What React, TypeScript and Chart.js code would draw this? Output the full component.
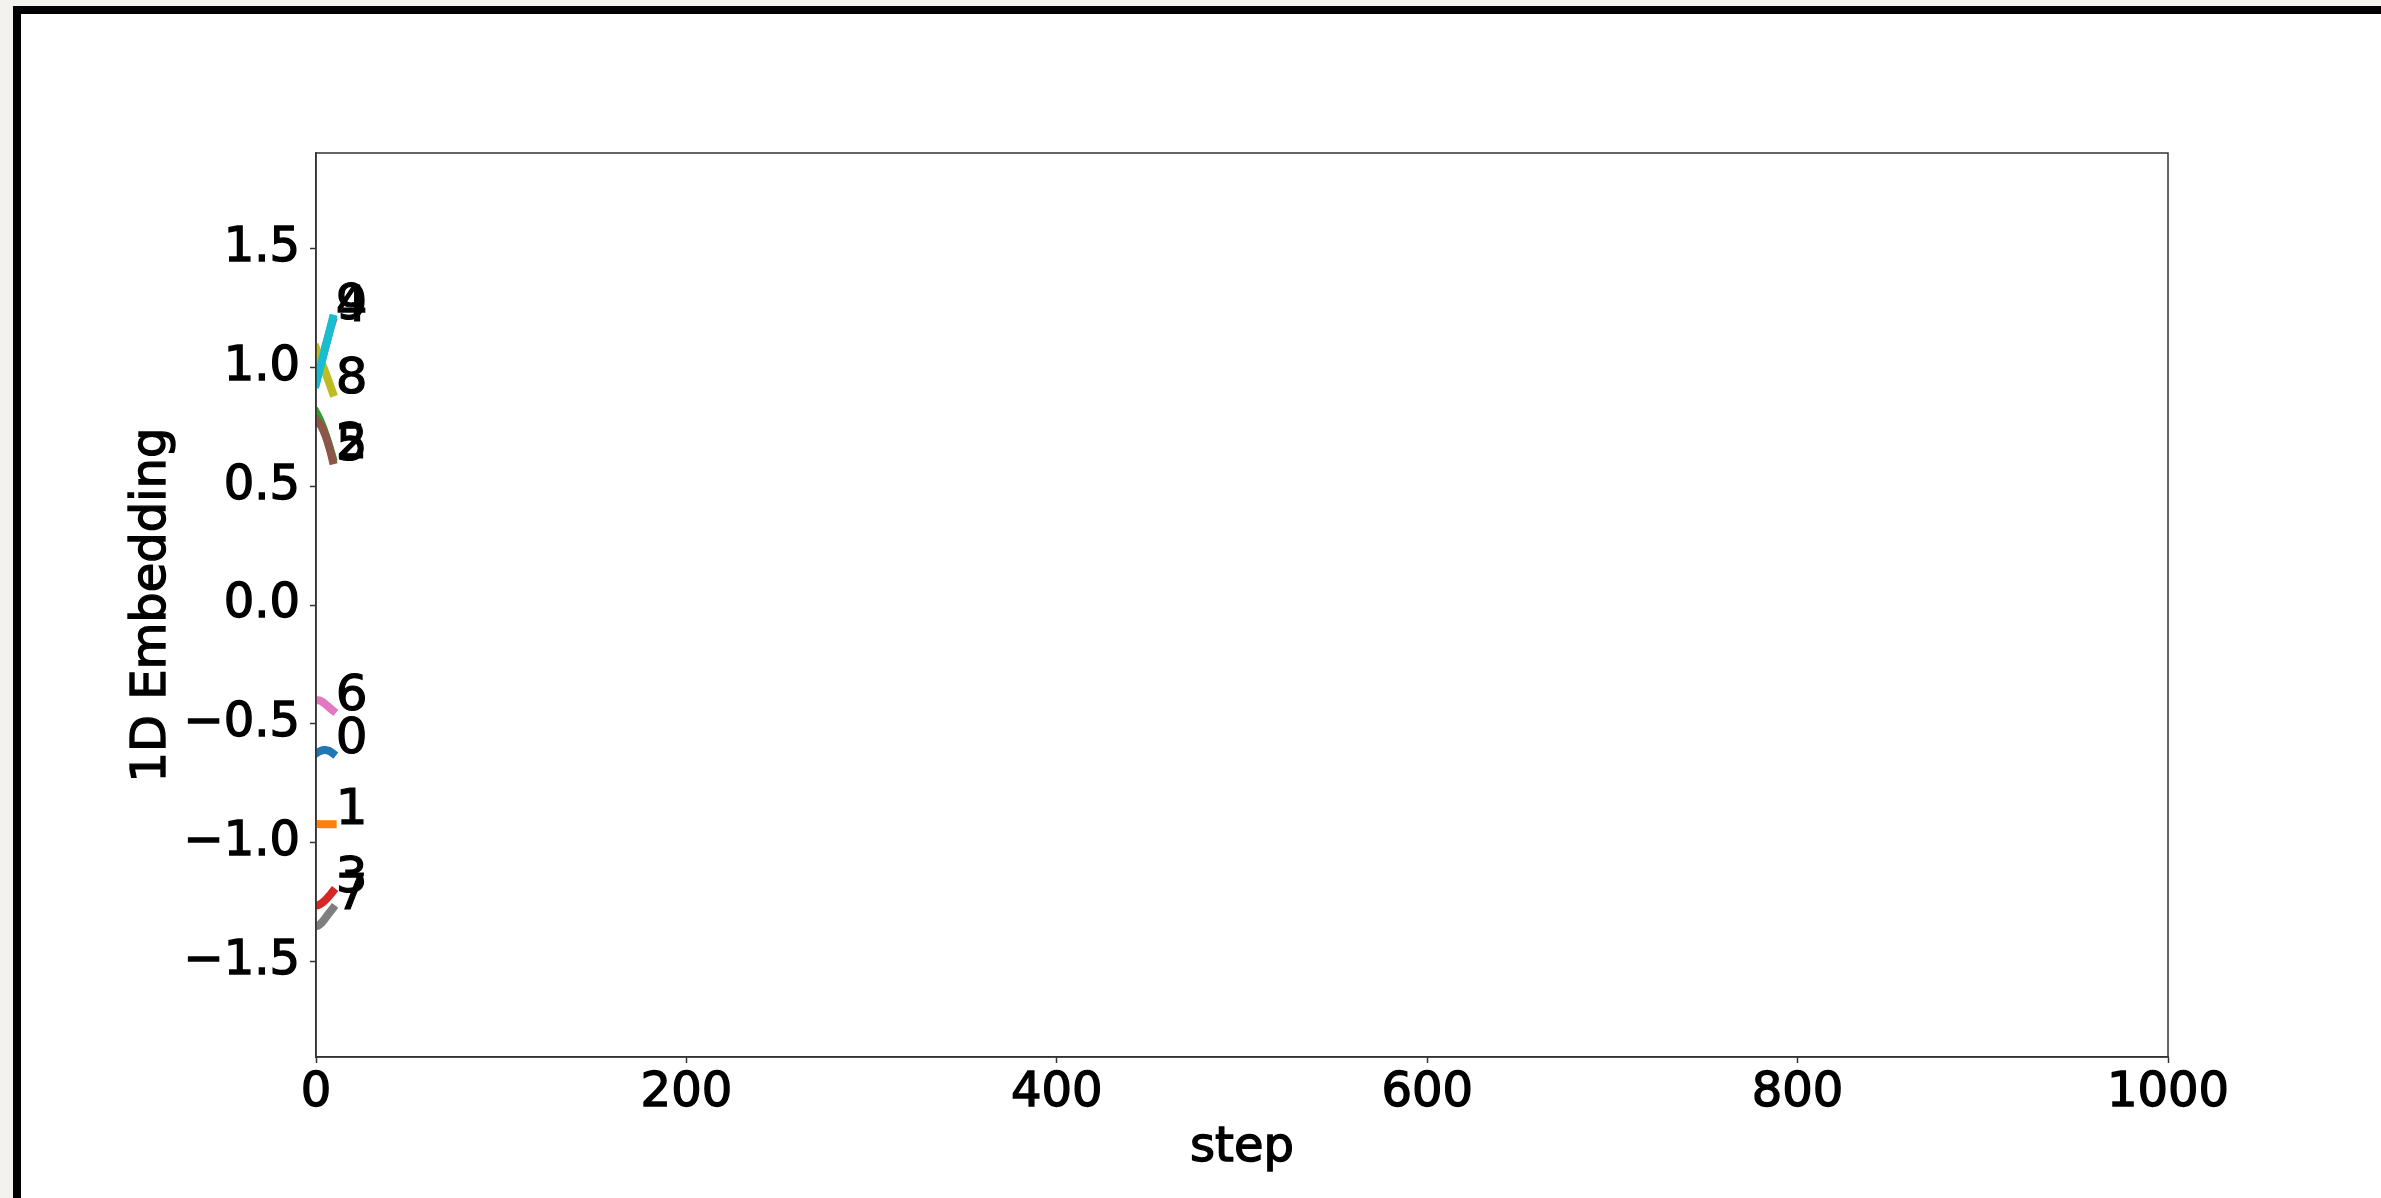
import React, { useEffect, useRef } from 'react';
import { Chart, registerables } from 'chart.js';

Chart.register(...registerables);

// ---- data ----
const steps = [0, 1, 2, 3, 4, 5, 6, 7, 8, 9];
const seriesNames = ['0', '1', '2', '3', '4', '5', '6', '7', '8', '9'];
const s0 = [-0.624, -0.619, -0.615, -0.612, -0.61, -0.61, -0.611, -0.613, -0.617, -0.623];
const s1 = [-0.921, -0.921, -0.922, -0.922, -0.922, -0.922, -0.922, -0.922, -0.922, -0.922];
const s2 = [0.81, 0.796, 0.78, 0.762, 0.742, 0.72, 0.697, 0.672, 0.646, 0.62];
const s3 = [-1.263, -1.262, -1.259, -1.254, -1.248, -1.241, -1.233, -1.224, -1.215, -1.205];
const s4 = [0.935, 0.965, 0.995, 1.025, 1.055, 1.085, 1.113, 1.141, 1.168, 1.192];
const s5 = [0.78, 0.772, 0.762, 0.75, 0.734, 0.715, 0.693, 0.668, 0.64, 0.608];
const s6 = [-0.4, -0.4, -0.402, -0.405, -0.41, -0.416, -0.423, -0.43, -0.437, -0.443];
const s7 = [-1.35, -1.348, -1.343, -1.336, -1.327, -1.317, -1.306, -1.296, -1.286, -1.276];
const s8 = [1.08, 1.06, 1.04, 1.02, 1.0, 0.98, 0.958, 0.937, 0.915, 0.893];
const s9 = [0.93, 0.96, 0.99, 1.02, 1.05, 1.08, 1.11, 1.14, 1.172, 1.204];
const allSeries = [s0, s1, s2, s3, s4, s5, s6, s7, s8, s9];
const colors = ['#1f77b4', '#ff7f0e', '#2ca02c', '#d62728', '#9467bd', '#8c564b', '#e377c2', '#7f7f7f', '#bcbd22', '#17becf'];
const xTicks = [0, 200, 400, 600, 800, 1000];
const yTicks = [-1.5, -1.0, -0.5, 0.0, 0.5, 1.0, 1.5];
const xRange = [0, 1000];
const yRange = [-1.9, 1.9];
const xTitle = 'step';
const yTitle = '1D Embedding';

const FONT = 'DejaVu Sans';

const boxPlugin = {
  id: 'axesBox',
  afterDraw(chart: any) {
    const { ctx, chartArea } = chart;
    ctx.save();
    ctx.strokeStyle = '#333';
    ctx.lineWidth = 1.5;
    ctx.strokeRect(chartArea.left, chartArea.top, chartArea.right - chartArea.left, chartArea.bottom - chartArea.top);

    // axis titles (drawn with a light stroke to match the heavier reference text)
    ctx.font = `48px "${FONT}"`;
    ctx.fillStyle = '#000';
    ctx.strokeStyle = '#000';
    ctx.lineWidth = 1.4;
    ctx.textAlign = 'center';
    ctx.textBaseline = 'alphabetic';
    const cx = (chartArea.left + chartArea.right) / 2;
    ctx.fillText(xTitle, cx, chartArea.bottom + 104);
    ctx.strokeText(xTitle, cx, chartArea.bottom + 104);
    const cy = (chartArea.top + chartArea.bottom) / 2;
    ctx.translate(chartArea.left - 151, cy);
    ctx.rotate(-Math.PI / 2);
    ctx.fillText(yTitle, 0, 0);
    ctx.strokeText(yTitle, 0, 0);
    ctx.restore();
  },
};

const endLabelPlugin = {
  id: 'endLabels',
  afterDatasetsDraw(chart: any) {
    const { ctx } = chart;
    ctx.save();
    ctx.font = `50px "${FONT}"`;
    ctx.fillStyle = '#000';
    ctx.strokeStyle = '#000';
    ctx.lineWidth = 1.2;
    ctx.textAlign = 'left';
    ctx.textBaseline = 'alphabetic';
    chart.data.datasets.forEach((ds: any, i: number) => {
      const meta = chart.getDatasetMeta(i);
      const pts = meta.data;
      if (!pts.length) return;
      const p = pts[pts.length - 1];
      ctx.fillText(ds.label, p.x + 3, p.y);
      ctx.strokeText(ds.label, p.x + 3, p.y);
    });
    ctx.restore();
  },
};

export default function App() {
  const ref = useRef<HTMLCanvasElement | null>(null);

  useEffect(() => {
    if (!ref.current) return;
    const datasets = allSeries.map((vals, i) => ({
      label: seriesNames[i],
      data: steps.map((s, k) => ({ x: s, y: vals[k] })),
      borderColor: colors[i],
      backgroundColor: colors[i],
      borderWidth: 8,
      borderCapStyle: 'square' as const,
      pointRadius: 0,
      tension: 0,
      fill: false,
      clip: 0,
      order: -i,
    }));

    const tickCommon = {
      color: '#000',
      font: { family: FONT, size: 48 },
      autoSkip: false,
      textStrokeColor: '#000',
      textStrokeWidth: 1.4,
    };

    const chart = new Chart(ref.current, {
      type: 'line',
      data: { datasets },
      plugins: [boxPlugin, endLabelPlugin],
      options: {
        animation: false,
        responsive: false,
        devicePixelRatio: 1,
        layout: { padding: { left: 0, top: 153, right: 213, bottom: 0 } },
        plugins: { legend: { display: false }, tooltip: { enabled: false } },
        scales: {
          x: {
            type: 'linear',
            min: xRange[0],
            max: xRange[1],
            afterBuildTicks: (scale: any) => {
              scale.ticks = xTicks.map((v) => ({ value: v }));
            },
            afterFit: (scale: any) => {
              scale.height = 141;
            },
            grid: {
              display: true,
              drawOnChartArea: false,
              drawTicks: true,
              tickLength: 6,
              tickColor: '#333',
              tickWidth: 1.5,
            },
            border: { display: true, color: '#333', width: 1.5 },
            ticks: {
              ...tickCommon,
              padding: 2,
              maxRotation: 0,
              callback: (v: any) => String(v),
            },
            title: { display: false },
          },
          y: {
            type: 'linear',
            min: yRange[0],
            max: yRange[1],
            afterBuildTicks: (scale: any) => {
              scale.ticks = yTicks.map((v) => ({ value: v }));
            },
            afterFit: (scale: any) => {
              scale.width = 316;
            },
            grid: {
              display: true,
              drawOnChartArea: false,
              drawTicks: true,
              tickLength: 6,
              tickColor: '#333',
              tickWidth: 1.5,
            },
            border: { display: true, color: '#333', width: 1.5 },
            ticks: {
              ...tickCommon,
              padding: 10,
              callback: (v: any) => {
                const n = Number(v);
                return (n < 0 ? '\u2212' : '') + Math.abs(n).toFixed(1);
              },
            },
            title: { display: false },
          },
        },
      },
    });
    return () => chart.destroy();
  }, []);

  return (
    <div style={{ position: 'fixed', left: 0, top: 0, width: 2381, height: 1198, background: '#f3f2ee', overflow: 'hidden' }}>
      <div
        style={{
          position: 'absolute',
          left: 13,
          top: 6,
          right: 0,
          bottom: 0,
          background: '#fff',
          borderLeft: '8px solid #000',
          borderTop: '8px solid #000',
        }}
      />
      <canvas
        ref={ref}
        width={2381}
        height={1198}
        style={{ position: 'absolute', left: 0, top: 0, width: 2381, height: 1198 }}
      />
    </div>
  );
}
